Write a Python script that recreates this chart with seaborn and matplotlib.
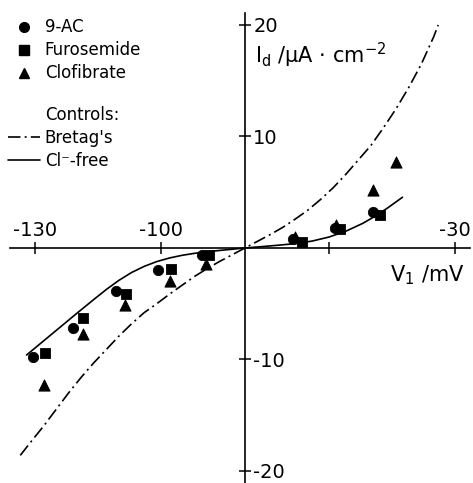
import numpy as np
import pandas as pd
import seaborn as sns
import matplotlib.pyplot as plt
from matplotlib.lines import Line2D

# measured points (membrane potential in mV, current in uA/cm2)
ac_v = [-130.4, -120.9, -110.7, -100.6, -90.3, -68.5, -58.6, -49.5]
ac_i = [-9.75, -7.15, -3.9, -2.0, -0.6, 0.8, 1.8, 3.2]
furo_v = [-127.6, -118.6, -108.3, -97.7, -88.5, -66.5, -57.4, -47.9]
furo_i = [-9.45, -6.3, -4.1, -1.9, -0.6, 0.55, 1.7, 2.95]
clof_v = [-127.9, -118.6, -108.6, -97.9, -89.3, -68.1, -58.3, -49.5, -44.0]
clof_i = [-12.3, -7.7, -5.1, -3.0, -1.4, 1.0, 2.05, 5.2, 7.75]

# control curves
bretag_v = [-133.5, -131, -128, -125, -122, -119, -116, -113, -110, -107, -104,
            -101, -98, -95, -92, -89, -86, -83, -80, -77, -74, -71, -68, -65,
            -62, -59, -56, -53, -50, -47, -44, -41, -38, -35, -34]
bretag_i = [-18.6, -17.4, -16.0, -14.5, -13.0, -11.6, -10.3, -9.1, -7.9, -6.8, -5.8,
            -5.0, -4.15, -3.35, -2.55, -1.85, -1.2, -0.6, 0.0, 0.6, 1.2, 1.85, 2.6, 3.4,
            4.35, 5.4, 6.6, 7.9, 9.2, 10.8, 12.5, 14.4, 16.5, 19.0, 20.0]
clfree_v = [-132, -128, -124, -120, -116, -113, -110, -107, -104, -101, -98,
            -95, -92, -89, -86, -83, -80, -76, -72, -68, -64, -60, -56,
            -52, -49, -46, -42.5]
clfree_i = [-9.6, -8.35, -7.1, -5.85, -4.62, -3.72, -2.9, -2.2, -1.65, -1.22, -0.9,
            -0.66, -0.48, -0.34, -0.22, -0.11, 0.0, 0.12, 0.25, 0.39, 0.62, 0.98, 1.5,
            2.2, 2.85, 3.6, 4.55]

x_ticks = [-130, -100, -60, -30]
x_labels = ['-130', '-100', '', '-30']
y_ticks = [20, 10, -10, -20]
y_labels = ['20', '10', '-10', '-20']

sns.set_style('white')
plt.rcParams['font.family'] = ['DejaVu Sans']
plt.rcParams['mathtext.default'] = 'regular'
plt.rcParams['text.color'] = 'black'
plt.rcParams['xtick.color'] = 'black'
plt.rcParams['ytick.color'] = 'black'

fig = plt.figure(figsize=(4.73, 4.83), dpi=100)
ax = fig.add_axes([0, 0, 1, 1])

dashdot = (0, (7.5, 2.5, 1.2, 2.5))

sns.lineplot(x=bretag_v, y=bretag_i, sort=False, color='black', lw=1.2,
             linestyle=dashdot, ax=ax)
sns.lineplot(x=clfree_v, y=clfree_i, sort=False, color='black', lw=1.2, ax=ax)

sns.scatterplot(x=ac_v, y=ac_i, marker='o', s=55, color='black', edgecolor='black', ax=ax)
sns.scatterplot(x=furo_v, y=furo_i, marker='s', s=55, color='black', edgecolor='black', ax=ax)
sns.scatterplot(x=clof_v, y=clof_i, marker='^', s=65, color='black', edgecolor='black', ax=ax)

ax.set_xlim(-138.33, -25.71)
ax.set_ylim(-21.08, 22.24)

# axes crossing at (-80, 0)
ax.spines['bottom'].set_visible(False)
ax.spines['left'].set_visible(False)
ax.spines['top'].set_position(('data', 0))
ax.spines['right'].set_position(('data', -80))
ax.spines['top'].set_bounds(-136, -26.4)
ax.spines['right'].set_bounds(-21.1, 21.1)
for s in ('top', 'right'):
    ax.spines[s].set_color('black')
    ax.spines[s].set_linewidth(1.2)

ax.xaxis.tick_top()
ax.yaxis.tick_right()
ax.set_xticks(x_ticks)
ax.set_xticklabels(x_labels)
ax.set_yticks(y_ticks)
ax.set_yticklabels(y_labels)
ax.tick_params(direction='inout', length=8, width=1.1, color='black',
               labelcolor='black', labelsize=14, pad=2)

ax.text(-77.6, 17.3, r'I$_d$ /µA $\cdot$ cm$^{-2}$', fontsize=15, va='center', ha='left')
ax.text(-36.7, -2.4, r'V$_1$ /mV', fontsize=15, va='center', ha='center')

handles = [
    Line2D([], [], marker='o', ls='none', color='black', markersize=7),
    Line2D([], [], marker='s', ls='none', color='black', markersize=7),
    Line2D([], [], marker='^', ls='none', color='black', markersize=7),
    Line2D([], [], ls='none'),
    Line2D([], [], ls='none'),
    Line2D([], [], color='black', lw=1.2, linestyle=dashdot),
    Line2D([], [], color='black', lw=1.2),
]
labels = ['9-AC', 'Furosemide', 'Clofibrate', ' ', 'Controls:', "Bretag's", 'Cl⁻-free']
leg = ax.legend(handles, labels, loc='upper left', bbox_to_anchor=(0.017, 0.962),
                frameon=False, fontsize=12, handlelength=1.9, handletextpad=0.3,
                labelspacing=0.3, borderpad=0, borderaxespad=0)
leg.get_texts()[3].set_fontsize(7)

plt.savefig('out.png', dpi=100)
